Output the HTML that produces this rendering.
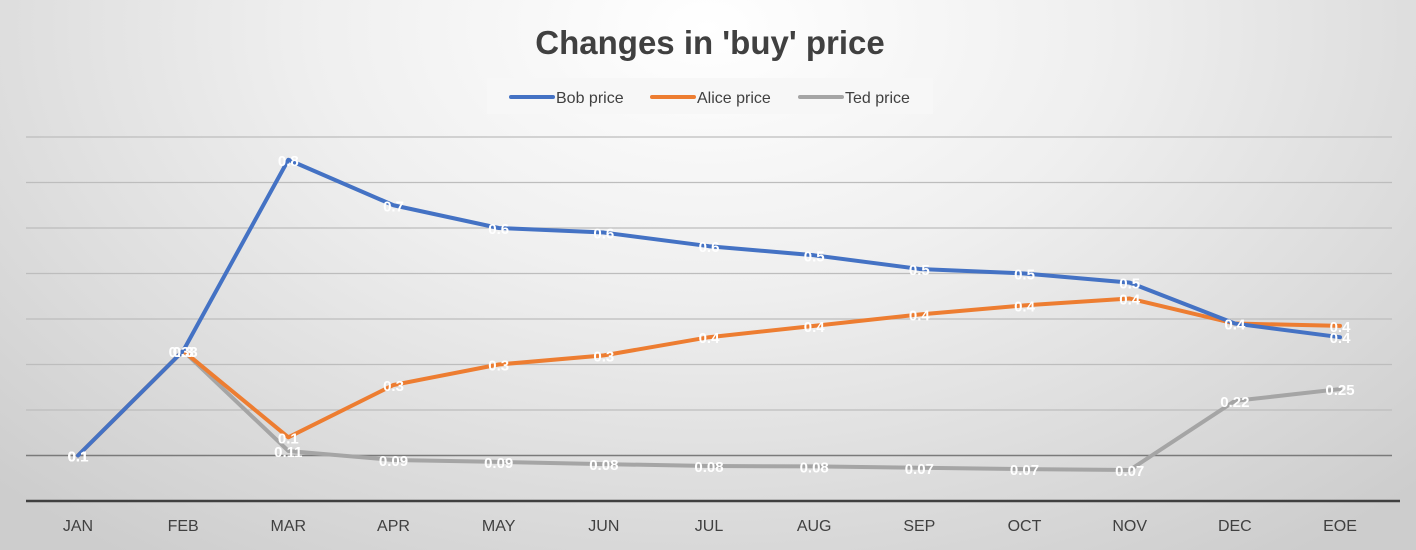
<!DOCTYPE html>
<html><head><meta charset="utf-8"><style>
html,body{margin:0;padding:0;width:1416px;height:550px;overflow:hidden}
body{background:radial-gradient(ellipse 1000px 650px at 50% 5%,#ffffff 0%,#efefef 40%,#cdcdcd 100%);font-family:"Liberation Sans",sans-serif}
svg{position:absolute;left:0;top:0}
</style></head><body>
<svg width="1416" height="550">
<text x="710" y="54" text-anchor="middle" font-size="33" font-weight="bold" fill="#404040">Changes in 'buy' price</text>
<g>
<rect x="487" y="78" width="446" height="36" fill="#f7f7f7"/>
<g><line x1="511" y1="97" x2="553" y2="97" stroke="#4472c4" stroke-width="4" stroke-linecap="round"/><text x="556" y="103" font-size="16" fill="#404040">Bob price</text></g>
<g><line x1="652" y1="97" x2="694" y2="97" stroke="#ed7d31" stroke-width="4" stroke-linecap="round"/><text x="697" y="103" font-size="16" fill="#404040">Alice price</text></g>
<g><line x1="800" y1="97" x2="842" y2="97" stroke="#a5a5a5" stroke-width="4" stroke-linecap="round"/><text x="845" y="103" font-size="16" fill="#404040">Ted price</text></g>
</g>
<g id="grid"></g><g id="series"></g><g id="labels"></g><g id="xaxis"></g>
</svg>
<script>
const categories=["JAN","FEB","MAR","APR","MAY","JUN","JUL","AUG","SEP","OCT","NOV","DEC","EOE"];
const bobValues=[0.1,0.33,0.75,0.65,0.60,0.59,0.56,0.54,0.51,0.50,0.48,0.39,0.36];
const aliceValues=[0.1,0.33,0.14,0.255,0.30,0.32,0.36,0.385,0.41,0.43,0.445,0.39,0.385];
const tedValues=[0.1,0.33,0.11,0.09,0.086,0.081,0.077,0.076,0.073,0.07,0.068,0.22,0.246];
const gridTicks=[0.1,0.2,0.3,0.4,0.5,0.6,0.7,0.8];
const NS="http://www.w3.org/2000/svg";
function xScale(i){return 78+i*(1340-78)/(categories.length-1);}
function yScale(v){return 501-v*455;}
function mk(tag,attrs,parent){const e=document.createElementNS(NS,tag);for(const k in attrs)e.setAttribute(k,attrs[k]);parent.appendChild(e);return e;}
const grid=document.getElementById('grid');
gridTicks.forEach(t=>{const l=mk('line',{x1:26,x2:1392,y1:yScale(t),y2:yScale(t),stroke:t<0.15?'#7a7a7a':'#bdbdbd','stroke-width':t<0.15?1.5:1.3},grid);

});
const ax=document.getElementById('xaxis');
const al=mk('line',{x1:26,x2:1400,y1:501,y2:501,stroke:'#404040','stroke-width':2.5},ax);


categories.forEach((c,i)=>{const t=mk('text',{x:xScale(i),y:531,'text-anchor':'middle','font-size':16,fill:'#404040'},ax);t.textContent=c;

});
const S=document.getElementById('series'),L=document.getElementById('labels');
function draw(vals,color,name,dec){
 const p=mk('polyline',{points:vals.map((v,i)=>xScale(i)+','+yScale(v)).join(' '),fill:'none',stroke:color,'stroke-width':4,'stroke-linejoin':'round','stroke-linecap':'round'},S);
 
 
 vals.forEach((v,i)=>{const t=mk('text',{x:xScale(i),y:yScale(v)+6,'text-anchor':'middle','font-size':15,'font-weight':'bold',fill:'#ffffff'},L);
 t.textContent=(+v.toFixed(dec)).toString();
 
 });
}
draw(tedValues,'#a5a5a5','ted',2);
draw(aliceValues,'#ed7d31','alice',1);
draw(bobValues,'#4472c4','bob',1);
</script>
</body></html>
